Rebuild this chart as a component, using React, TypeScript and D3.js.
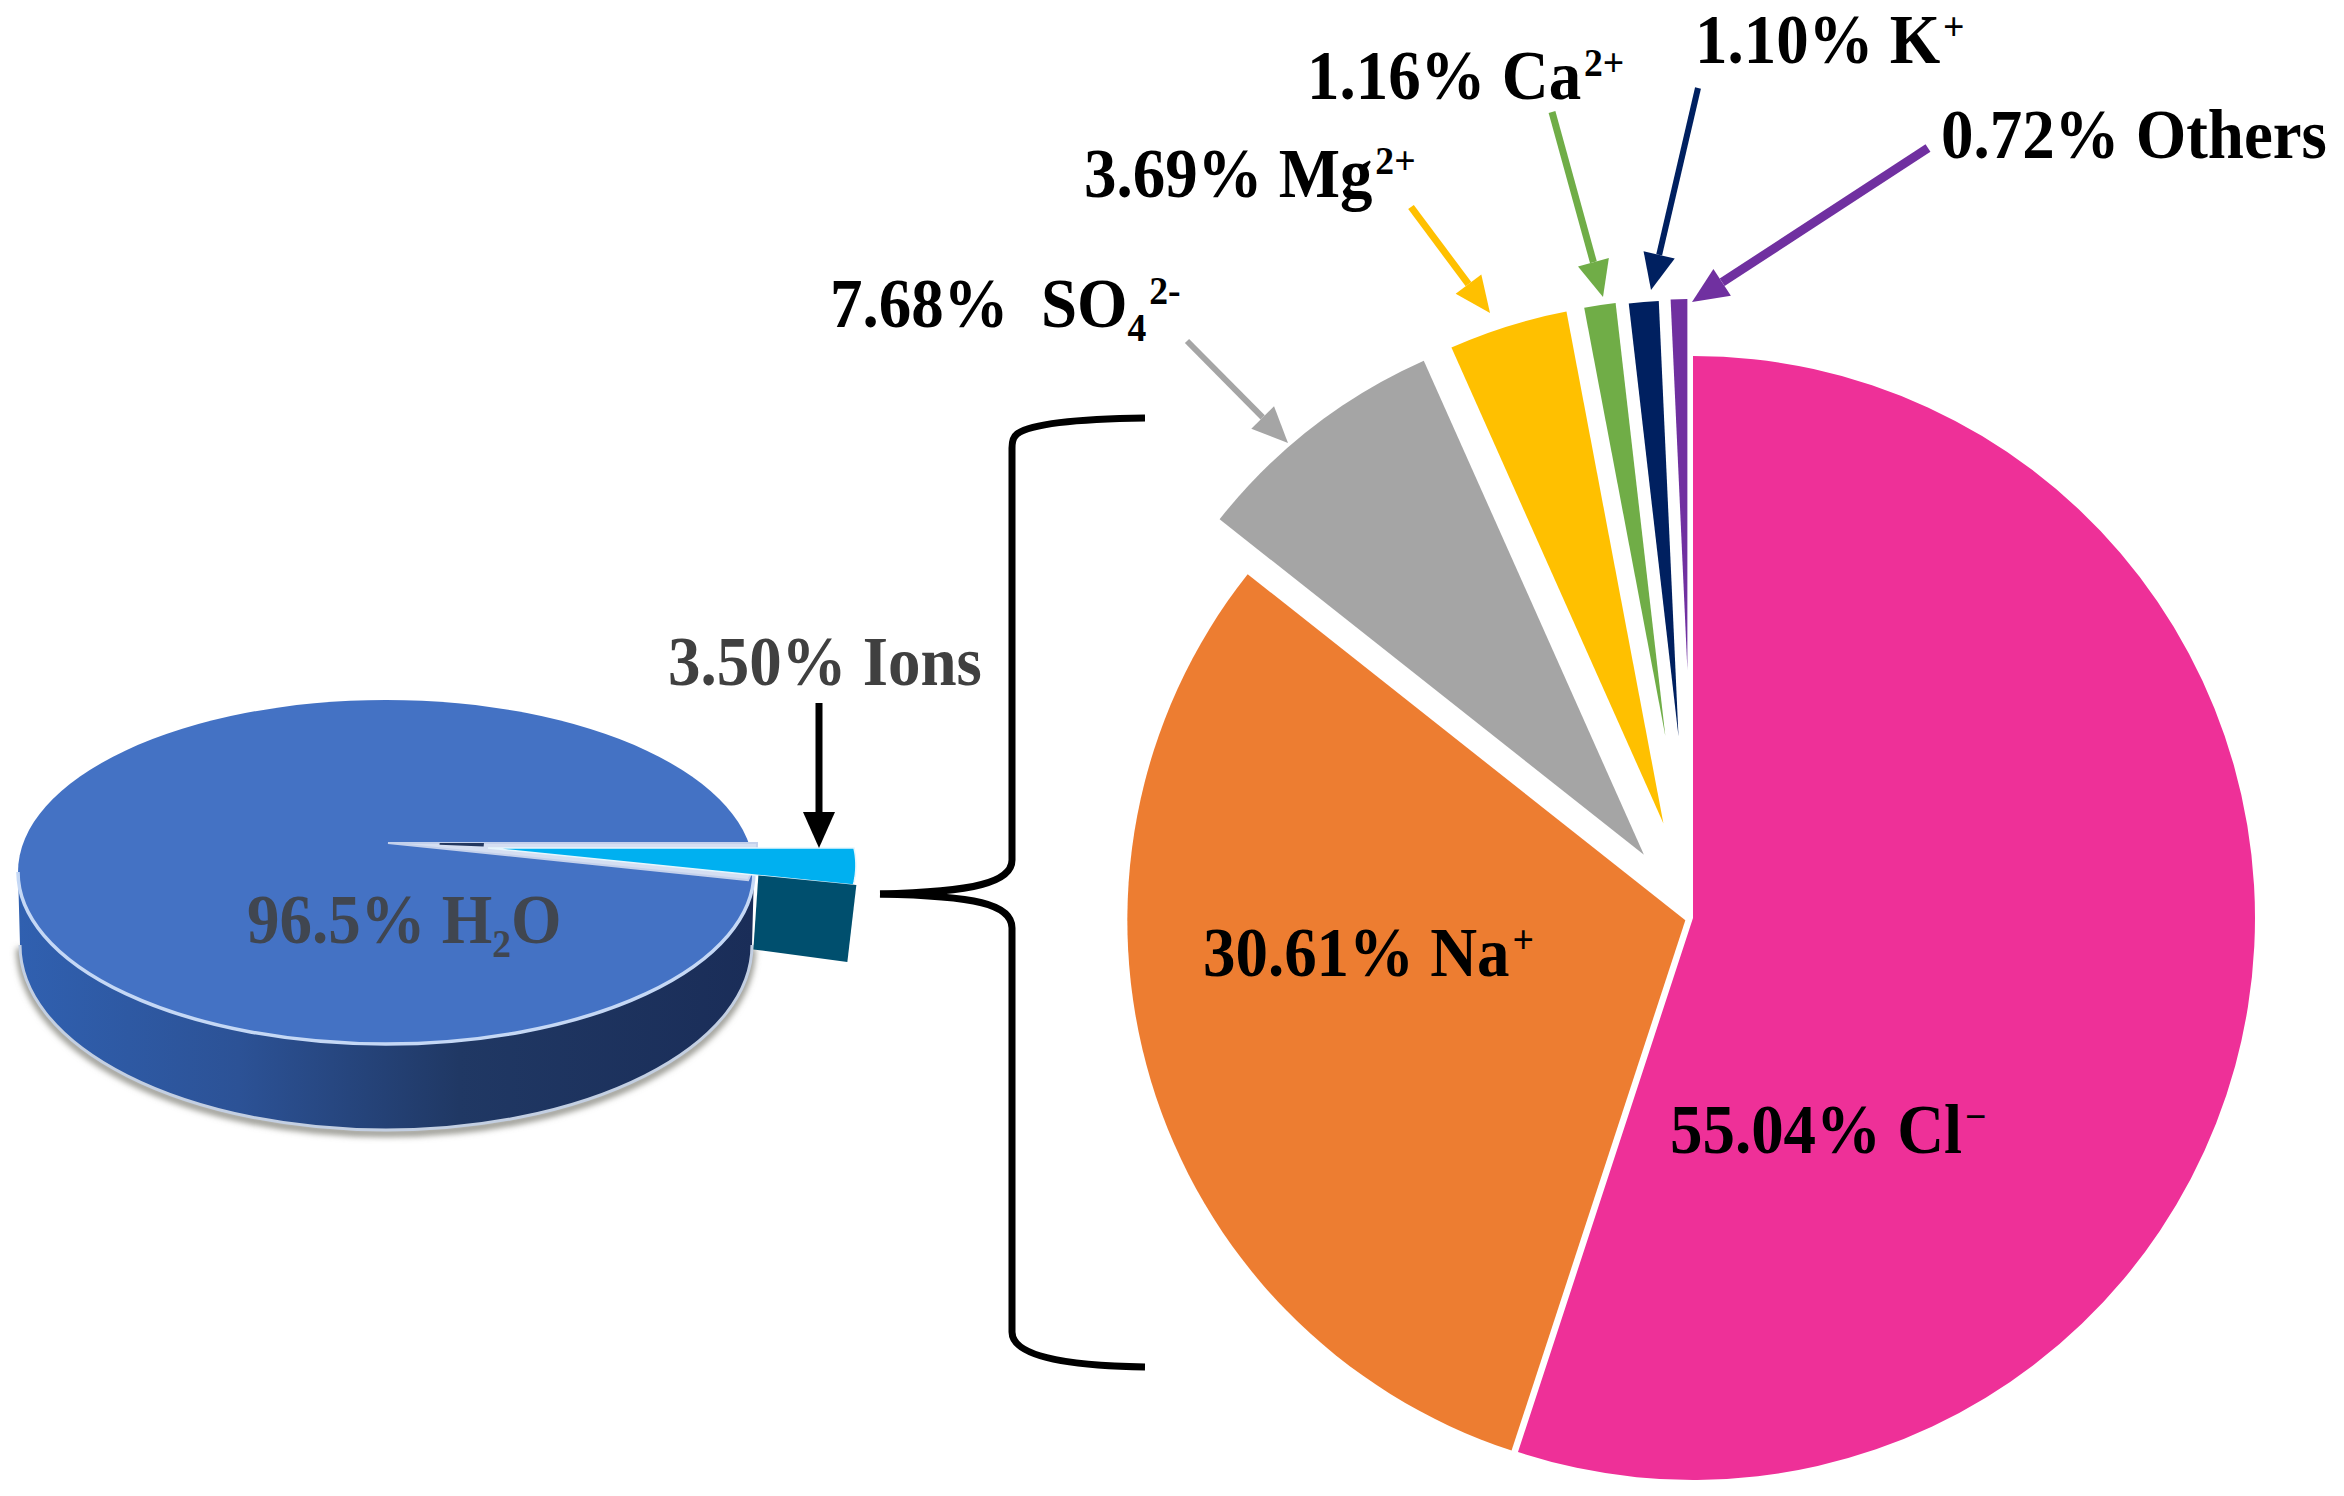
import * as d3 from 'd3';

// large pie: shares of the dissolved ions, clockwise from 12 o'clock
const ionShares = [55.04, 30.61, 7.68, 3.69, 1.16, 1.1, 0.72];
const ionColors = ['#EE3098', '#ED7D31', '#A5A5A5', '#FFC000', '#70AD47', '#002060', '#7030A0'];
const ionExplode = [0, 8, 80, 99, 184, 182, 248];
const ionRadius = [562, 558, 541, 521, 436, 436, 371];

// small pie: water vs ions
const waterShares = [3.5, 96.5];

type Part = { t: string; s?: 'sup' | 'sub' };

const ionLabels: Part[][] = [
  [{ t: '55.04% Cl' }, { t: '−', s: 'sup' }],
  [{ t: '30.61% Na' }, { t: '+', s: 'sup' }],
  [{ t: '7.68%\u00A0\u00A0SO' }, { t: '4', s: 'sub' }, { t: '2-', s: 'sup' }],
  [{ t: '3.69% Mg' }, { t: '2+', s: 'sup' }],
  [{ t: '1.16% Ca' }, { t: '2+', s: 'sup' }],
  [{ t: '1.10% K' }, { t: '+', s: 'sup' }],
  [{ t: '0.72% Others' }],
];
const ionLabelPos = [[1670, 1153], [1203, 976], [830, 327], [1084, 197], [1307, 99], [1695, 63], [1941, 158]];

// callout arrows [x1, y1, x2, y2], the second point is the tip
const arrowColors = ['#A5A5A5', '#FFC000', '#70AD47', '#002060', '#7030A0', '#000000'];
const arrowWidths = [6, 7, 7, 6, 9, 7];
const arrowPos = [
  [1187, 341, 1288, 443],
  [1411, 207, 1490, 313],
  [1552, 112, 1603, 297],
  [1698, 88, 1651, 290],
  [1928, 148, 1692, 302],
  [819, 703, 819, 848],
];

const FONT = '"Liberation Serif", serif';
const FONT_SIZE = 68;

function Label({ x, y, parts, fill }: { x: number; y: number; parts: Part[]; fill: string }) {
  let shift = 0;
  return (
    <text
      transform={`translate(${x},${y}) scale(0.955,1.03)`}
      fontFamily={FONT}
      fontWeight="bold"
      fontSize={FONT_SIZE}
      fill={fill}
    >
      {parts.map((p, i) => {
        const target = p.s === 'sup' ? -22 : p.s === 'sub' ? 14 : 0;
        const dy = target - shift;
        shift = target;
        return (
          <tspan key={i} dy={dy} dx={p.s === 'sup' ? 3 : 0} fontSize={p.s ? FONT_SIZE * 0.58 : FONT_SIZE}>
            {p.t}
          </tspan>
        );
      })}
    </text>
  );
}

function Arrow({ pos, color, width }: { pos: number[]; color: string; width: number }) {
  const [x1, y1, x2, y2] = pos;
  const a = Math.atan2(y2 - y1, x2 - x1);
  const len = 36;
  const half = 16;
  const bx = x2 - len * Math.cos(a);
  const by = y2 - len * Math.sin(a);
  const nx = -Math.sin(a) * half;
  const ny = Math.cos(a) * half;
  return (
    <g>
      <line x1={x1} y1={y1} x2={bx} y2={by} stroke={color} strokeWidth={width} />
      <path d={`M${x2},${y2}L${bx + nx},${by + ny}L${bx - nx},${by - ny}Z`} fill={color} />
    </g>
  );
}

export default function App() {
  const pie = d3.pie<number>().sort(null).startAngle(0).endAngle(2 * Math.PI);
  const slices = pie(ionShares);
  const cx = 1693;
  const cy = 918;

  // small 3D pie, top and bottom ellipses
  const top = { cx: 386, cy: 872, rx: 368, ry: 172 };
  const bot = { cx: 386, cy: 945, rx: 366, ry: 185 };
  const sidePath =
    `M${top.cx - top.rx},${top.cy}L${bot.cx - bot.rx},${bot.cy}` +
    `A${bot.rx},${bot.ry} 0 0 0 ${bot.cx + bot.rx},${bot.cy}` +
    `L${top.cx + top.rx},${top.cy}Z`;
  const rimPath = `M${bot.cx - bot.rx},${bot.cy}A${bot.rx},${bot.ry} 0 0 0 ${bot.cx + bot.rx},${bot.cy}`;
  const topEdge = `M${top.cx - top.rx},${top.cy}A${top.rx},${top.ry} 0 0 0 ${top.cx + top.rx},${top.cy}`;

  const wedge = d3
    .pie<number>()
    .sort(null)
    .startAngle(Math.PI / 2)
    .endAngle(Math.PI / 2 + 2 * Math.PI)(waterShares)[0];

  // projected pie point: angle from 12 o'clock, fraction of the radius
  const project =
    (ax: number, ay: number, rx: number, ry: number, shear = 0) =>
    (t: number, r = 1): [number, number] => {
      const dy = -Math.cos(t) * ry * r;
      return [ax + Math.sin(t) * rx * r + shear * dy, ay + dy];
    };
  const line = d3.line().curve(d3.curveLinear);
  const t0 = wedge.startAngle;
  const t1 = wedge.endAngle;
  const tSteps = d3.range(0, 1.0001, 0.1).map((k) => t0 + (t1 - t0) * k);

  const notch = project(388, 843, 369, 170);
  const notchPath = line([notch(t0, 0), ...tSteps.map((t) => notch(t))]) + 'Z';
  const cyan = project(488, 848, 366, 170, 0.22);
  const cyanPath = line([cyan(t0, 0), ...tSteps.map((t) => cyan(t))]) + 'Z';
  const darkPath =
    line([notch(t0, 0.14), notch(t0, 0.26), notch(t0 + (t1 - t0) * 0.35, 0.26), notch(t0 + (t1 - t0) * 0.35, 0.14)]) + 'Z';

  // cut face of the pulled-out ions slice
  const depth = 77;
  const faceStart = cyan(t1, 0.74);
  const faceEnd = cyan(t1);
  const facePath =
    line([
      [faceStart[0], faceStart[1]],
      [faceEnd[0] + 3, faceEnd[1]],
      [faceEnd[0] - 6, faceEnd[1] + depth],
      [faceStart[0] - 5, faceStart[1] + depth - 3],
    ]) + 'Z';

  return (
    <svg
      width={2344}
      height={1496}
      viewBox="0 0 2344 1496"
      style={{ position: 'absolute', left: 0, top: 0, display: 'block', background: '#fff' }}
    >
      <defs>
        <linearGradient id="side" x1="0" x2="1" y1="0" y2="0">
          <stop offset="0" stopColor="#3060B0" />
          <stop offset="0.3" stopColor="#2C5296" />
          <stop offset="0.6" stopColor="#203864" />
          <stop offset="1" stopColor="#1A2D58" />
        </linearGradient>
        <filter id="soft" x="-10%" y="-10%" width="120%" height="120%">
          <feGaussianBlur stdDeviation="3" />
        </filter>
      </defs>

      {/* small pie */}
      <path d={rimPath} fill="none" stroke="#8E8E86" strokeWidth={7} filter="url(#soft)" transform="translate(0,3)" />
      <path d={sidePath} fill="url(#side)" />
      <path d={rimPath} fill="none" stroke="#C3CFE2" strokeWidth={3} />
      <ellipse cx={top.cx} cy={top.cy} rx={top.rx} ry={top.ry} fill="#4472C4" />
      <path d={topEdge} fill="none" stroke="#C5D8F5" strokeWidth={3.5} />
      <path d={notchPath} fill="#D5DFF2" stroke="#C4D1EC" strokeWidth={2} />
      <path d={darkPath} fill="#23375F" />
      <path d={cyanPath} fill="#00B0F0" stroke="#E6F6FD" strokeWidth={1.5} />
      <path d={facePath} fill="#004F6E" />
      <Label x={247} y={943} parts={[{ t: '96.5% H' }, { t: '2', s: 'sub' }, { t: 'O' }]} fill="#404650" />
      <Label x={668} y={685} parts={[{ t: '3.50% Ions' }]} fill="#404040" />

      {/* bracket */}
      <path
        d="M1145,418C1075,419 1030,424 1017,434C1013,437 1012,441 1012,448L1012,860C1012,882 975,892 880,894"
        fill="none"
        stroke="#000"
        strokeWidth={7}
      />
      <path
        d="M880,894C975,896 1012,904 1012,928L1012,1332C1012,1355 1060,1366 1145,1367"
        fill="none"
        stroke="#000"
        strokeWidth={7}
      />

      {/* large pie */}
      {slices.map((s, i) => {
        const mid = (s.startAngle + s.endAngle) / 2;
        const dx = Math.sin(mid) * ionExplode[i];
        const dy = -Math.cos(mid) * ionExplode[i];
        const d = d3.arc<d3.PieArcDatum<number>>().innerRadius(0).outerRadius(ionRadius[i])(s) as string;
        return <path key={i} d={d} fill={ionColors[i]} transform={`translate(${cx + dx},${cy + dy})`} />;
      })}

      {ionLabels.map((parts, i) => (
        <Label key={i} x={ionLabelPos[i][0]} y={ionLabelPos[i][1]} parts={parts} fill="#000" />
      ))}

      {arrowPos.map((p, i) => (
        <Arrow key={i} pos={p} color={arrowColors[i]} width={arrowWidths[i]} />
      ))}
    </svg>
  );
}
